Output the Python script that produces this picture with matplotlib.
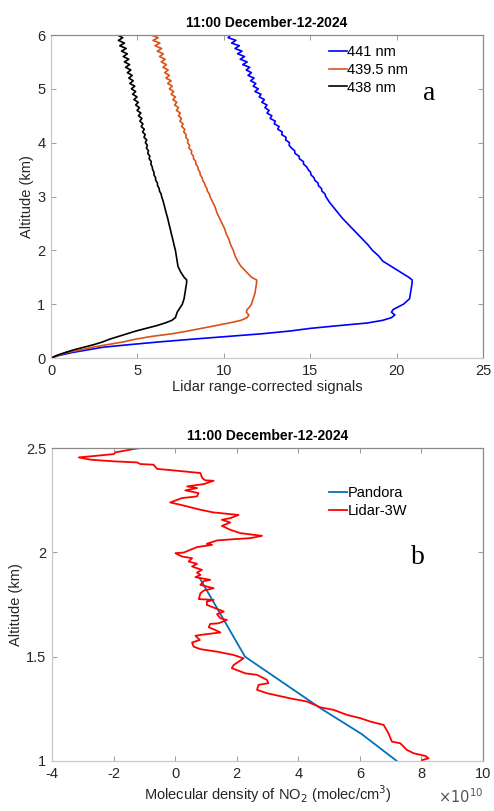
import matplotlib
matplotlib.use("Agg")
import matplotlib.pyplot as plt

# ---------------- Panel a data ----------------
altitude_km = [0, 0.05, 0.1, 0.15, 0.2, 0.25, 0.3, 0.35, 0.4, 0.45, 0.5, 0.55, 0.6, 0.65, 0.7, 0.75,
               0.8, 0.85, 0.9, 0.95, 1.0, 1.1, 1.2, 1.3, 1.4, 1.45, 1.5, 1.6, 1.7, 1.8, 1.9,
               2.0, 2.1, 2.2, 2.3, 2.4, 2.5, 2.6, 2.7, 2.8, 2.9,
               3.0, 3.05, 3.1, 3.15, 3.2, 3.25, 3.3, 3.35, 3.4, 3.45, 3.5, 3.55, 3.6, 3.65, 3.7, 3.75,
               3.8, 3.85, 3.9, 3.95, 4.0, 4.05, 4.1, 4.15, 4.2, 4.25, 4.3, 4.35, 4.4, 4.45, 4.5, 4.55,
               4.6, 4.65, 4.7, 4.75, 4.8, 4.85, 4.9, 4.95, 5.0, 5.05, 5.1, 5.15, 5.2, 5.25, 5.3, 5.35,
               5.4, 5.45, 5.5, 5.55, 5.6, 5.65, 5.7, 5.75, 5.8, 5.85, 5.9, 5.95, 6.0]

signal_441 = [0, 0.5, 1.2, 2.1, 3.0, 4.6, 6.3, 8.2, 10.2, 12.2, 13.8, 15.0, 16.6, 18.3, 19.2, 19.7,
              19.9, 19.7, 19.8, 20.1, 20.4, 20.75, 20.8, 20.85, 20.9, 20.9, 20.7, 20.2, 19.7, 19.2, 18.95,
              18.6, 18.35, 18.05, 17.75, 17.45, 17.15, 16.85, 16.6, 16.35, 16.1,
              15.9, 15.85, 15.68, 15.65, 15.48, 15.45, 15.27, 15.22, 15.05, 15.02, 14.88, 14.80, 14.62, 14.6,
              14.38, 14.35, 14.12, 14.1, 13.92, 13.78, 13.8, 13.58, 13.6, 13.35, 13.38, 13.12, 13.2, 12.92,
              12.98, 12.68, 12.78, 12.5, 12.62, 12.38, 12.5, 12.2, 12.35, 12.05, 12.15, 11.8, 12.0, 11.7,
              11.85, 11.55, 11.75, 11.4, 11.6, 11.3, 11.5, 11.1, 11.35, 10.95, 11.2, 10.8, 11.05, 10.65,
              10.9, 10.45, 10.7, 10.25, 10.4]

signal_4395 = [0, 0.4, 0.9, 1.7, 2.4, 3.3, 4.2, 4.9, 5.8, 7.0, 7.9, 8.7, 9.5, 10.3, 11.0, 11.35,
               11.45, 11.3, 11.35, 11.5, 11.6, 11.7, 11.8, 11.85, 11.9, 11.9, 11.6, 11.3, 11.0, 10.8, 10.65,
               10.55, 10.4, 10.3, 10.15, 10.05, 9.9, 9.75, 9.6, 9.5, 9.35,
               9.2, 9.16, 9.05, 9.02, 8.92, 8.88, 8.78, 8.75, 8.64, 8.62, 8.52, 8.5, 8.38, 8.38, 8.25, 8.24,
               8.12, 8.14, 7.98, 8.02, 7.9, 7.93, 7.8, 7.82, 7.68, 7.74, 7.56, 7.64, 7.46, 7.55, 7.38, 7.48,
               7.26, 7.38, 7.15, 7.28, 7.05, 7.2, 6.95, 7.1, 6.85, 7.02, 6.75, 6.95, 6.65, 6.85, 6.58, 6.78,
               6.48, 6.68, 6.38, 6.6, 6.28, 6.5, 6.15, 6.4, 6.02, 6.3, 5.9, 6.2, 5.8]

signal_438 = [0, 0.35, 0.8, 1.3, 1.9, 2.5, 3.0, 3.4, 3.9, 4.4, 4.9, 5.5, 6.1, 6.6, 7.0, 7.2,
              7.25, 7.3, 7.4, 7.5, 7.6, 7.7, 7.75, 7.8, 7.85, 7.85, 7.7, 7.5, 7.35, 7.3, 7.25,
              7.2, 7.12, 7.05, 6.97, 6.9, 6.82, 6.75, 6.66, 6.58, 6.5,
              6.4, 6.37, 6.28, 6.26, 6.17, 6.16, 6.06, 6.05, 5.96, 5.96, 5.88, 5.86, 5.78, 5.8, 5.68, 5.72,
              5.6, 5.64, 5.52, 5.58, 5.46, 5.54, 5.38, 5.45, 5.3, 5.4, 5.22, 5.32, 5.14, 5.26, 5.06, 5.2,
              4.98, 5.12, 4.9, 5.05, 4.8, 4.98, 4.72, 4.9, 4.65, 4.85, 4.56, 4.76, 4.5, 4.7, 4.42, 4.62,
              4.32, 4.55, 4.25, 4.5, 4.18, 4.42, 4.08, 4.35, 3.98, 4.25, 3.9, 4.15, 3.85]

labels_a = ["441 nm", "439.5 nm", "438 nm"]
colors_a = ["#0000FF", "#D95319", "#000000"]

# ---------------- Panel b data ----------------
pandora_alt = [1.0, 1.13, 1.25, 1.5, 1.876]
pandora_no2 = [7.2, 6.05, 4.75, 2.27, 0.8]   # x 1e10 molec/cm3

lidar_alt = [2.5, 2.495, 2.479, 2.471, 2.463, 2.455, 2.444, 2.436, 2.431, 2.423, 2.42, 2.40, 2.388,
             2.38, 2.356, 2.345, 2.343, 2.327, 2.316, 2.308, 2.297, 2.284, 2.268, 2.26, 2.239, 2.228,
             2.204, 2.191, 2.188, 2.179, 2.164, 2.156, 2.143, 2.127, 2.108, 2.092, 2.079, 2.068, 2.063,
             2.057, 2.041, 2.036, 2.025, 2.012, 1.999, 1.996, 1.98, 1.972, 1.956, 1.945, 1.932, 1.916,
             1.903, 1.892, 1.881, 1.868, 1.862, 1.844, 1.828, 1.817, 1.804, 1.776, 1.772, 1.764, 1.748,
             1.729, 1.716, 1.704, 1.684, 1.676, 1.66, 1.657, 1.641, 1.628, 1.616, 1.612, 1.604, 1.60,
             1.58, 1.568, 1.548, 1.536, 1.524, 1.508, 1.492, 1.46, 1.445, 1.42, 1.413, 1.389, 1.373,
             1.365, 1.341, 1.325, 1.30, 1.285, 1.257, 1.245, 1.221, 1.205, 1.189, 1.173, 1.133, 1.093,
             1.085, 1.053, 1.037, 1.024, 1.013, 1.004, 0.997]
lidar_no2 = [-1.13, -1.35, -1.94, -1.99, -2.54, -3.13, -2.75, -1.99, -1.24, -1.13, -0.70, -0.59, 0.28,
             0.82, 0.88, 0.98, 1.25, 0.93, 0.39, 0.71, 0.33, 0.76, 0.71, 0.22, -0.16, 0.17,
             0.82, 1.25, 1.47, 2.06, 1.79, 1.52, 1.79, 1.52, 1.79, 2.12, 2.82, 2.44, 1.90,
             1.36, 1.03, 1.20, 0.71, 0.49, 0.28, 0.01, 0.22, 0.55, 0.44, 0.71, 0.55, 0.87,
             0.71, 0.82, 0.66, 1.14, 0.93, 0.82, 1.25, 0.93, 0.82, 0.77, 1.25, 1.03, 1.03,
             1.36, 1.58, 1.36, 1.47, 1.68, 1.41, 1.14, 1.09, 1.30, 1.47, 1.25, 0.82, 0.66,
             0.80, 0.55, 0.60, 0.82, 1.36, 1.90, 2.22, 1.90, 1.84, 2.28, 2.66, 2.98, 3.03,
             2.71, 2.66, 2.98, 3.74, 4.28, 4.72, 5.15, 5.58, 6.02, 6.34, 6.77, 6.93, 7.04,
             7.31, 7.53, 7.75, 8.13, 8.23, 8.02, 8.02]

labels_b = ["Pandora", "Lidar-3W"]
colors_b = ["#0072BD", "#FF0000"]

title_text = "11:00 December-12-2024"

# ---------------- Figure ----------------
plt.rcParams['font.family'] = ['Liberation Sans', 'DejaVu Sans']
plt.rcParams['axes.unicode_minus'] = False
fig = plt.figure(figsize=(4.94, 8.11), dpi=100)

ax1 = fig.add_axes([51 / 494, 1 - 358 / 811, 432 / 494, 323 / 811])
ax2 = fig.add_axes([52 / 494, 1 - 761 / 811, 431 / 494, 313 / 811])

text_col = "#262626"


def style(ax):
    for side in ["top", "right"]:
        ax.spines[side].set_color("#8a8a8a")
    for side in ["left", "bottom"]:
        ax.spines[side].set_color("#c8c8c8")
    for sp in ax.spines.values():
        sp.set_linewidth(0.9)
    ax.tick_params(direction="in", length=3.5, width=0.7, colors="#999999",
                   labelcolor=text_col, labelsize=10.5, top=True, right=True, pad=4)


for vals, lab, col in zip([signal_441, signal_4395, signal_438], labels_a, colors_a):
    ax1.plot(vals, altitude_km, color=col, lw=1.2, label=lab)
ax1.set_xlim(0, 25)
ax1.set_ylim(0, 6)
ax1.set_xticks([0, 5, 10, 15, 20, 25])
ax1.set_yticks([0, 1, 2, 3, 4, 5, 6])
style(ax1)
ax1.set_xlabel("Lidar range-corrected signals", fontsize=10.5, color=text_col, labelpad=2)
ax1.set_ylabel("Altitude (km)", fontsize=10.5, color=text_col, labelpad=2)
ax1.set_title(title_text, fontsize=10, fontweight="bold", pad=6)
ax1.legend(loc="upper left", bbox_to_anchor=(0.62, 1.0), frameon=False, fontsize=10.5,
           handlelength=1.2, handletextpad=0.05, labelspacing=0.25, borderaxespad=0.3)
ax1.text(0.875, 0.80, "a", transform=ax1.transAxes, fontsize=20, family="Liberation Serif",
         ha="center", va="baseline")

ax2.plot(pandora_no2, pandora_alt, color=colors_b[0], lw=1.3, label=labels_b[0])
ax2.plot(lidar_no2, lidar_alt, color=colors_b[1], lw=1.3, label=labels_b[1])
ax2.set_xlim(-4, 10)
ax2.set_ylim(1, 2.5)
ax2.set_xticks([-4, -2, 0, 2, 4, 6, 8, 10])
ax2.set_yticks([1, 1.5, 2, 2.5])
ax2.set_yticklabels(["1", "1.5", "2", "2.5"])
style(ax2)
ax2.set_xlabel("Molecular density of NO$_2$ (molec/cm$^3$)", fontsize=10.5, color=text_col, labelpad=2)
ax2.set_ylabel("Altitude (km)", fontsize=10.5, color=text_col, labelpad=2)
ax2.set_title(title_text, fontsize=10, fontweight="bold", pad=6)
ax2.legend(loc="upper left", bbox_to_anchor=(0.62, 0.91), frameon=False, fontsize=10.5,
           handlelength=1.2, handletextpad=0.05, labelspacing=0.25, borderaxespad=0.3)
ax2.text(0.85, 0.63, "b", transform=ax2.transAxes, fontsize=20, family="Liberation Serif",
         ha="center", va="baseline")
ax2.text(1.0, -0.115, r"$\times10^{10}$", transform=ax2.transAxes, fontsize=10.5,
         color="#555555", ha="right", va="center")

fig.savefig("out.png", dpi=100)
